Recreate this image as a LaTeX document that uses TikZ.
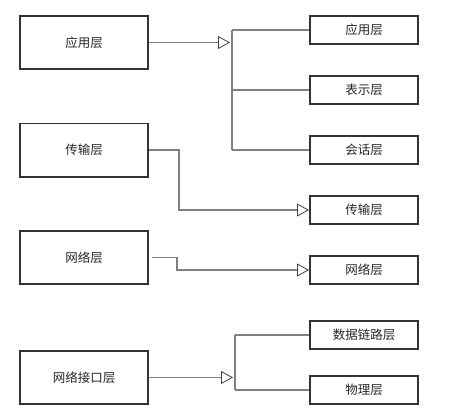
\documentclass[tikz,border=0pt]{standalone}
\usepackage{fontspec}
\setmainfont{Noto Sans CJK SC}
\usetikzlibrary{positioning,arrows.meta}

\begin{document}
\begin{tikzpicture}[x=1pt, y=-1pt,
        layer/.style={
            draw=black!80, line width=1.8pt, minimum width=128.2pt,
            minimum height=53.2pt, inner sep=0pt, text=black!85,
            font=\fontsize{12.5}{14}\selectfont
        },
        osi/.style={layer, minimum width=108.2pt, minimum height=28.2pt},
        link/.style={draw=black!50, line width=1.4pt},
        flow/.style={link, -{Triangle[open, length=12pt, width=13pt, line width=0.8pt, color=black!75]}}
    ]
        \useasboundingbox (0,0) rectangle (471,407);
        % TCP/IP model
        \node[layer] (app) at (84,42.5) {应用层};
        \node[layer] (trans) at (84,150) {传输层};
        \node[layer] (net) at (84,257.5) {网络层};
        \node[layer] (host) at (84,377.5) {网络接口层};
        % OSI model
        \node[osi] (oapp) at (364,30) {应用层};
        \node[osi, below=30pt of oapp] (opres) {表示层};
        \node[osi, below=30pt of opres] (osess) {会话层};
        \node[osi, below=30pt of osess] (otrans) {传输层};
        \node[osi, below=30pt of otrans] (onet) {网络层};
        \node[osi] (olink) at (364,335) {数据链路层};
        \node[osi, below=25pt of olink] (ophy) {物理层};
        % mapping
        \coordinate (split1) at (230,45);
        \coordinate (bus1) at (232,0);
        \draw[flow] (app) -- (app -| split1);
        \draw[link] (oapp.west -| bus1) -- (osess.west -| bus1);
        \foreach \n in {oapp,opres,osess}
            \draw[link] (\n.west -| bus1) -- (\n.west);
        \draw[flow] (trans.east) -- ++(30,0) |- (otrans.west);
        \draw[flow] ([xshift=3pt]net.east) -- ++(25,0) |- (onet.west);
        \coordinate (split2) at (233,371);
        \coordinate (bus2) at (235,0);
        \draw[flow] (host) -- (host -| split2);
        \draw[link] (olink.west -| bus2) -- (ophy.west -| bus2);
        \foreach \n in {olink,ophy}
            \draw[link] (\n.west -| bus2) -- (\n.west);
    \end{tikzpicture}
\end{document}
